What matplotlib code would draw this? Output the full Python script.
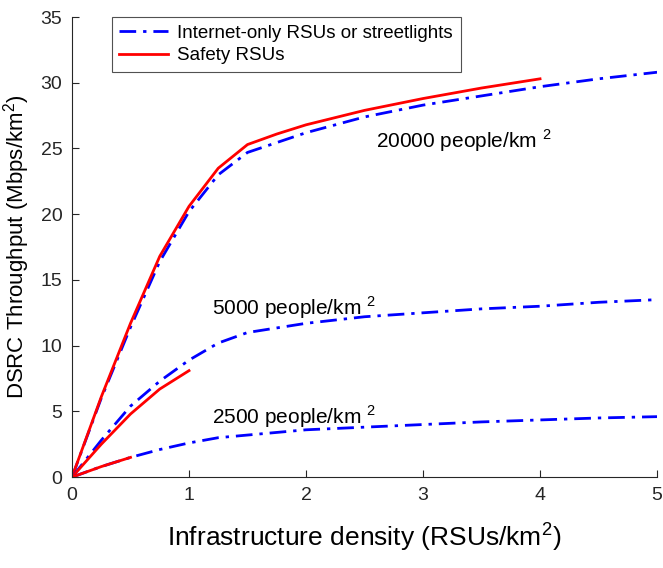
import numpy as np
import matplotlib
matplotlib.use("Agg")
import matplotlib.pyplot as plt

plt.rcParams['font.family'] = ['Liberation Sans', 'DejaVu Sans']
plt.rcParams['mathtext.fontset'] = 'custom'
plt.rcParams['mathtext.rm'] = 'Liberation Sans'

# density of RSUs (per km^2)
x_full = [0, 0.25, 0.5, 0.75, 1.0, 1.25, 1.5, 2.0, 2.5, 3.0, 3.5, 4.0, 4.5, 5.0]

# internet-only RSUs / streetlights
blue_20000 = [0, 6.0, 11.4, 16.4, 20.2, 23.0, 24.7, 26.2, 27.4, 28.3, 29.0, 29.7, 30.3, 30.8]
blue_5000 = [0, 2.8, 5.4, 7.3, 8.9, 10.2, 11.0, 11.7, 12.2, 12.5, 12.8, 13.0, 13.3, 13.5]
blue_2500 = [0, 0.8, 1.5, 2.1, 2.6, 3.0, 3.2, 3.6, 3.8, 4.0, 4.2, 4.35, 4.5, 4.6]

# safety RSUs
x_r20000 = [0, 0.25, 0.5, 0.75, 1.0, 1.25, 1.5, 1.75, 2.0, 2.5, 3.0, 3.5, 4.0]
red_20000 = [0, 6.1, 11.7, 16.8, 20.6, 23.5, 25.3, 26.1, 26.8, 27.9, 28.8, 29.6, 30.3]
x_r5000 = [0, 0.25, 0.5, 0.75, 1.0]
red_5000 = [0, 2.5, 4.8, 6.7, 8.1]
x_r2500 = [0, 0.25, 0.5]
red_2500 = [0, 0.8, 1.5]

fig = plt.figure(figsize=(6.63, 5.68), dpi=100)
ax = fig.add_axes([0.1086, 0.160, 0.8824, 0.810])

lw = 2.0
dashdot = (0, (6, 2.5, 1.2, 2.5))
ax.plot(x_full, blue_20000, color='#0000ff', linestyle=dashdot, lw=lw,
        label='Internet-only RSUs or streetlights')
ax.plot(x_r20000, red_20000, color='#ff0000', linestyle='-', lw=lw, label='Safety RSUs')
ax.plot(x_full, blue_5000, color='#0000ff', linestyle=dashdot, lw=lw)
ax.plot(x_r5000, red_5000, color='#ff0000', linestyle='-', lw=lw)
ax.plot(x_full, blue_2500, color='#0000ff', linestyle=dashdot, lw=lw)
ax.plot(x_r2500, red_2500, color='#ff0000', linestyle='-', lw=lw)

ax.text(2.6, 25.6, r'20000 people/km $^2$', fontsize=15, va='center')
ax.text(1.2, 12.9, r'5000 people/km $^2$', fontsize=15, va='center')
ax.text(1.2, 4.6, r'2500 people/km $^2$', fontsize=15, va='center')

ax.set_xlim(0, 5)
ax.set_ylim(0, 35)
ax.set_xticks([0, 1, 2, 3, 4, 5])
ax.set_yticks([0, 5, 10, 15, 20, 25, 30, 35])
ax.tick_params(direction='in', length=5, labelsize=14, colors='#262626', pad=7)
for s in ['top', 'right']:
    ax.spines[s].set_visible(False)
for s in ['left', 'bottom']:
    ax.spines[s].set_color('#262626')

ax.set_xlabel(r'Infrastructure density (RSUs/km$^2$)', fontsize=19, labelpad=12)
ax.set_ylabel(r'DSRC Throughput (Mbps/km$^2$)', fontsize=16, labelpad=6)

leg = ax.legend(loc='upper left', bbox_to_anchor=(0.068, 1.0), fontsize=13.5,
                frameon=True, fancybox=False, handlelength=2.6, borderpad=0.4,
                labelspacing=0.3, handletextpad=0.5, borderaxespad=0)
leg.get_frame().set_edgecolor('#262626')
leg.get_frame().set_linewidth(0.8)

fig.savefig('out.png', dpi=100)
